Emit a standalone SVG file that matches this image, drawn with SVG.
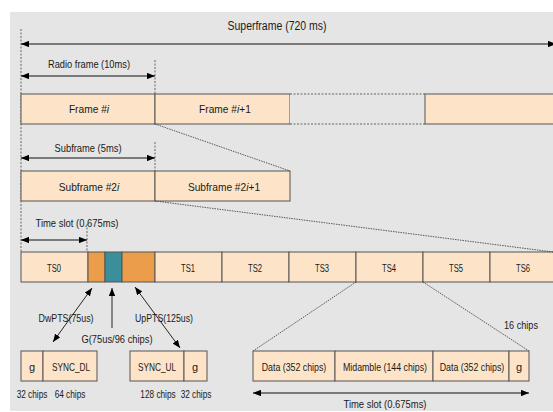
<svg xmlns="http://www.w3.org/2000/svg" width="553" height="412" viewBox="0 0 553 412">
<defs>
<marker id="ah" viewBox="0 0 10 8" refX="10" refY="4" markerWidth="8" markerHeight="6.4" orient="auto-start-reverse" markerUnits="userSpaceOnUse">
<path d="M0,0 L10,4 L0,8 Z" fill="#000"/>
</marker>
<style>
text{font-family:"Liberation Sans",Arial,sans-serif;font-size:11px;fill:#1a1a1a;text-anchor:middle}
.sm{font-size:10.2px}
.cell{fill:#fde4c9;stroke:#555;stroke-width:1}
.dim{stroke:#111;stroke-width:1.2;fill:none}
.dash{stroke:#444;stroke-width:0.8;stroke-dasharray:2,1.5;fill:none}
.dot{stroke:#333;stroke-width:0.8;stroke-dasharray:1.5,1;fill:none}
</style>
</defs>
<rect x="0" y="0" width="553" height="412" fill="#fff"/>
<rect x="10" y="12" width="543" height="399" fill="#e5e5e5"/>

<g id="guides">
<line class="dash" x1="21" y1="29" x2="21" y2="252"/>
<line class="dash" x1="155" y1="60" x2="155" y2="94"/>
<line class="dash" x1="155" y1="142" x2="155" y2="171"/>
<line class="dash" x1="87" y1="224" x2="87" y2="252"/>
</g>

<g id="superframe">
<text x="277" y="30" style="font-size:12px" textLength="99" lengthAdjust="spacingAndGlyphs">Superframe (720 ms)</text>
<line class="dim" x1="21" y1="44" x2="556" y2="44" marker-start="url(#ah)" marker-end="url(#ah)"/>
</g>

<g id="radioframe-dim">
<text x="89" y="68" textLength="82" lengthAdjust="spacingAndGlyphs">Radio frame (10ms)</text>
<line class="dim" x1="21" y1="76" x2="155" y2="76" marker-start="url(#ah)" marker-end="url(#ah)"/>
</g>

<g id="frames">
<rect class="cell" x="21" y="94" width="134" height="30"/>
<rect class="cell" x="155" y="94" width="135" height="30"/>
<rect x="290" y="94" width="135" height="30" fill="#e5e5e5" stroke="none"/>
<line class="dash" x1="290" y1="94" x2="425" y2="94"/>
<line class="dash" x1="290" y1="124" x2="425" y2="124"/>
<rect class="cell" x="425" y="94" width="140" height="30"/>
<text class="sm" x="89" y="113">Frame #<tspan font-style="italic">i</tspan></text>
<text class="sm" x="225" y="113">Frame #<tspan font-style="italic">i</tspan>+1</text>
</g>

<g id="subframe-dim">
<text x="88" y="152" textLength="67" lengthAdjust="spacingAndGlyphs">Subframe (5ms)</text>
<line class="dim" x1="21" y1="158" x2="155" y2="158" marker-start="url(#ah)" marker-end="url(#ah)"/>
</g>

<g id="subframes">
<rect class="cell" x="21" y="171" width="134" height="30"/>
<rect class="cell" x="155" y="171" width="135" height="30"/>
<text class="sm" x="89" y="191">Subframe #2<tspan font-style="italic">i</tspan></text>
<text class="sm" x="224" y="191">Subframe #2<tspan font-style="italic">i</tspan>+1</text>
</g>

<g id="timeslot-dim">
<text x="77" y="227" textLength="83" lengthAdjust="spacingAndGlyphs">Time slot (0.675ms)</text>
<line class="dim" x1="21" y1="240" x2="87" y2="240" marker-start="url(#ah)" marker-end="url(#ah)"/>
</g>

<g id="timeslots">
<rect class="cell" x="21" y="252" width="67" height="30"/>
<rect x="88" y="252" width="17" height="30" fill="#eb9d4b" stroke="#555"/>
<rect x="105" y="252" width="17" height="30" fill="#3a8f9b" stroke="#555"/>
<rect x="122" y="252" width="33" height="30" fill="#eb9d4b" stroke="#555"/>
<rect class="cell" x="155" y="252" width="67" height="30"/>
<rect class="cell" x="222" y="252" width="67" height="30"/>
<rect class="cell" x="289" y="252" width="67" height="30"/>
<rect class="cell" x="356" y="252" width="67" height="30"/>
<rect class="cell" x="423" y="252" width="67" height="30"/>
<rect class="cell" x="490" y="252" width="70" height="30"/>
<text x="54" y="272" textLength="14" lengthAdjust="spacingAndGlyphs">TS0</text>
<text x="188" y="272" textLength="14" lengthAdjust="spacingAndGlyphs">TS1</text>
<text x="255" y="272" textLength="14" lengthAdjust="spacingAndGlyphs">TS2</text>
<text x="322" y="272" textLength="14" lengthAdjust="spacingAndGlyphs">TS3</text>
<text x="389" y="272" textLength="14" lengthAdjust="spacingAndGlyphs">TS4</text>
<text x="456" y="272" textLength="14" lengthAdjust="spacingAndGlyphs">TS5</text>
<text x="523" y="272" textLength="14" lengthAdjust="spacingAndGlyphs">TS6</text>
</g>

<g id="connectors">
<line class="dot" x1="155" y1="124" x2="290" y2="171"/>
<line class="dot" x1="155" y1="201" x2="553" y2="252"/>
<line class="dot" x1="356" y1="282" x2="253" y2="351"/>
<line class="dot" x1="423" y1="282" x2="529" y2="351"/>
<line stroke="#111" stroke-width="0.9" x1="92" y1="288" x2="53" y2="342" marker-start="url(#ah)" marker-end="url(#ah)"/>
<line stroke="#111" stroke-width="0.9" x1="112" y1="328" x2="112" y2="288" marker-end="url(#ah)"/>
<line stroke="#111" stroke-width="0.9" x1="135" y1="287" x2="180" y2="348" marker-start="url(#ah)" marker-end="url(#ah)"/>
</g>

<g id="labels">
<text x="66" y="322" textLength="55" lengthAdjust="spacingAndGlyphs">DwPTS(75us)</text>
<text x="164" y="322" textLength="58" lengthAdjust="spacingAndGlyphs">UpPTS(125us)</text>
<text x="117" y="343" textLength="71" lengthAdjust="spacingAndGlyphs">G(75us/96 chips)</text>
</g>

<g id="dwpts">
<rect class="cell" x="21" y="351" width="22" height="30"/>
<rect class="cell" x="43" y="351" width="54" height="30"/>
<text x="32" y="371">g</text>
<text x="71" y="371" textLength="38" lengthAdjust="spacingAndGlyphs">SYNC_DL</text>
<text transform="translate(32,398) scale(0.75,1)">32 chips</text>
<text transform="translate(70,398) scale(0.75,1)">64 chips</text>
</g>

<g id="uppts">
<rect class="cell" x="130" y="351" width="54" height="30"/>
<rect class="cell" x="184" y="351" width="23" height="30"/>
<text x="157" y="371" textLength="38" lengthAdjust="spacingAndGlyphs">SYNC_UL</text>
<text x="195" y="371">g</text>
<text transform="translate(158,398) scale(0.75,1)">128 chips</text>
<text transform="translate(196,398) scale(0.75,1)">32 chips</text>
</g>

<g id="burst">
<rect class="cell" x="253" y="351" width="82" height="30"/>
<rect class="cell" x="335" y="351" width="98" height="30"/>
<rect class="cell" x="433" y="351" width="76" height="30"/>
<rect class="cell" x="509" y="351" width="20" height="30"/>
<text transform="translate(294,371) scale(0.8,1)">Data (352 chips)</text>
<text transform="translate(385,371) scale(0.8,1)">Midamble (144 chips)</text>
<text transform="translate(472,371) scale(0.8,1)">Data (352 chips)</text>
<text x="519" y="371">g</text>
<text x="521" y="329" textLength="34" lengthAdjust="spacingAndGlyphs">16 chips</text>
<line class="dim" x1="253" y1="393" x2="529" y2="393" marker-start="url(#ah)" marker-end="url(#ah)"/>
<text x="385" y="408" textLength="83" lengthAdjust="spacingAndGlyphs">Time slot (0.675ms)</text>
</g>
</svg>
